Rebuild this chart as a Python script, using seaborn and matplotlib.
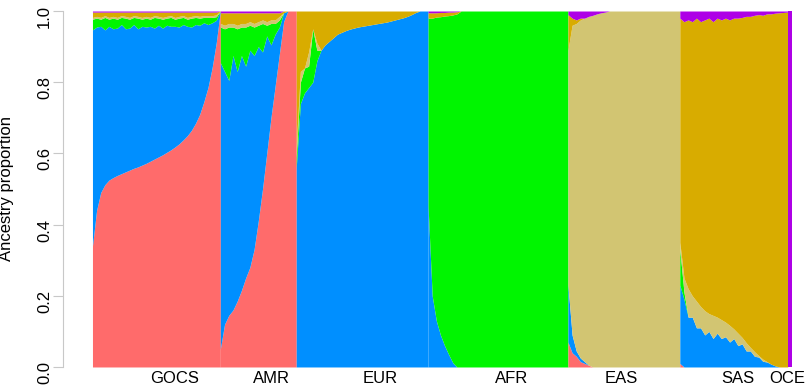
import numpy as np
import pandas as pd
import matplotlib
matplotlib.use("Agg")
import matplotlib.pyplot as plt
import seaborn as sns

# ancestry components, listed bottom to top of each bar
components = ['red', 'blue', 'green', 'khaki', 'gold', 'purple']
palette = {'red': '#FF6B6B', 'blue': '#008FFF', 'green': '#00F500',
           'khaki': '#D2C572', 'gold': '#D8AC00', 'purple': '#AE00E6'}

group_labels = ['GOCS', 'AMR', 'EUR', 'AFR', 'EAS', 'SAS', 'OCE']
label_pos = [20.6, 44.9, 72.1, 104.9, 132.4, 161.4, 173.9]
# horizontal extent of each group on the x axis
group_width = [32, 19, 33, 35, 28, 27, 1.2]

# GOCS
gocs_red = [0.34, 0.44, 0.49, 0.512, 0.525, 0.532, 0.538, 0.543, 0.548, 0.553, 0.558, 0.562, 0.567, 0.572, 0.578, 0.584,
            0.59, 0.596, 0.603, 0.61, 0.618, 0.627, 0.638, 0.65, 0.665, 0.685, 0.71, 0.745, 0.785, 0.84, 0.91, 1.0]
gocs_blue = [0.607, 0.515, 0.467, 0.435, 0.432, 0.418, 0.414, 0.419, 0.402, 0.399, 0.404, 0.388, 0.39, 0.383, 0.379, 0.368,
             0.37, 0.356, 0.357, 0.347, 0.339, 0.328, 0.324, 0.307, 0.29, 0.277, 0.25, 0.222, 0.177, 0.127, 0.064, 0.0]
gocs_green = [0.03, 0.025, 0.02, 0.035, 0.02, 0.03, 0.025, 0.02, 0.03, 0.025, 0.02, 0.03, 0.02, 0.025, 0.02, 0.03,
              0.02, 0.025, 0.02, 0.025, 0.02, 0.025, 0.02, 0.02, 0.025, 0.02, 0.02, 0.015, 0.02, 0.015, 0.01, 0.0]
gocs_khaki = [0.005, 0.005, 0.005, 0.005, 0.005, 0.005, 0.005, 0.005, 0.005, 0.005, 0.005, 0.005, 0.005, 0.005, 0.005, 0.005,
              0.005, 0.005, 0.005, 0.005, 0.005, 0.005, 0.005, 0.005, 0.005, 0.005, 0.005, 0.005, 0.005, 0.005, 0.005, 0.0]
gocs_gold = [0.015, 0.012, 0.015, 0.01, 0.015, 0.012, 0.015, 0.01, 0.012, 0.015, 0.01, 0.012, 0.015, 0.012, 0.015, 0.01,
             0.012, 0.015, 0.012, 0.01, 0.015, 0.012, 0.01, 0.015, 0.012, 0.01, 0.012, 0.01, 0.01, 0.01, 0.008, 0.0]
gocs_purple = [0.003, 0.003, 0.003, 0.003, 0.003, 0.003, 0.003, 0.003, 0.003, 0.003, 0.003, 0.003, 0.003, 0.003, 0.003, 0.003,
               0.003, 0.003, 0.003, 0.003, 0.003, 0.003, 0.003, 0.003, 0.003, 0.003, 0.003, 0.003, 0.003, 0.003, 0.003, 0.0]

# AMR
amr_red = [0.05, 0.12, 0.145, 0.16, 0.185, 0.215, 0.25, 0.28, 0.33, 0.41, 0.5, 0.6, 0.7, 0.79, 0.88, 0.97, 1.0, 1.0, 1.0]
amr_blue = [0.805, 0.71, 0.66, 0.715, 0.645, 0.66, 0.595, 0.61, 0.545, 0.49, 0.385, 0.33, 0.205, 0.145, 0.075, 0.025, 0, 0, 0]
amr_green = [0.10, 0.12, 0.15, 0.08, 0.12, 0.08, 0.11, 0.07, 0.08, 0.06, 0.08, 0.03, 0.06, 0.03, 0.02, 0, 0, 0, 0]
amr_khaki = [0.01, 0.01, 0.01, 0.01, 0.01, 0.01, 0.01, 0.01, 0.01, 0.01, 0.01, 0.01, 0.01, 0.01, 0.01, 0, 0, 0, 0]
amr_gold = [0.03, 0.035, 0.03, 0.03, 0.035, 0.03, 0.03, 0.025, 0.03, 0.025, 0.02, 0.025, 0.02, 0.02, 0.01, 0.005, 0, 0, 0]
amr_purple = [0.005, 0.005, 0.005, 0.005, 0.005, 0.005, 0.005, 0.005, 0.005, 0.005, 0.005, 0.005, 0.005, 0.005, 0.005, 0, 0, 0, 0]

# EUR
eur_blue = [0.56, 0.74, 0.77, 0.785, 0.80, 0.86, 0.89, 0.905, 0.915, 0.925, 0.935, 0.94, 0.945, 0.949, 0.952, 0.955,
            0.957, 0.959, 0.961, 0.963, 0.965, 0.967, 0.969, 0.972, 0.975, 0.978, 0.981, 0.985, 0.99, 0.996, 1.0, 1.0, 1.0]
eur_green = [0.03, 0.06, 0.07, 0.06, 0.15, 0.03, 0, 0, 0, 0, 0, 0, 0, 0, 0, 0,
             0, 0, 0, 0, 0, 0, 0, 0, 0, 0, 0, 0, 0, 0, 0, 0, 0]
eur_khaki = [0.03, 0.03, 0.0, 0.04, 0.0, 0.02, 0, 0, 0, 0, 0, 0, 0, 0, 0, 0,
             0, 0, 0, 0, 0, 0, 0, 0, 0, 0, 0, 0, 0, 0, 0, 0, 0]
eur_gold = [0.38, 0.17, 0.16, 0.115, 0.05, 0.09, 0.11, 0.095, 0.085, 0.075, 0.065, 0.06, 0.055, 0.051, 0.048, 0.045,
            0.043, 0.041, 0.039, 0.037, 0.035, 0.033, 0.031, 0.028, 0.025, 0.022, 0.019, 0.015, 0.01, 0.004, 0, 0, 0]

# AFR
afr_blue = [0.45, 0.2, 0.13, 0.09, 0.06, 0.035, 0.012, 0, 0, 0, 0, 0, 0, 0, 0, 0, 0, 0,
            0, 0, 0, 0, 0, 0, 0, 0, 0, 0, 0, 0, 0, 0, 0, 0, 0]
afr_green = [0.53, 0.78, 0.853, 0.894, 0.926, 0.952, 0.977, 0.992, 1.0, 1.0, 1.0, 1.0, 1.0, 1.0, 1.0, 1.0, 1.0, 1.0,
             1.0, 1.0, 1.0, 1.0, 1.0, 1.0, 1.0, 1.0, 1.0, 1.0, 1.0, 1.0, 1.0, 1.0, 1.0, 1.0, 1.0]
afr_gold = [0.015, 0.015, 0.012, 0.012, 0.01, 0.01, 0.008, 0.006, 0, 0, 0, 0, 0, 0, 0, 0, 0, 0,
            0, 0, 0, 0, 0, 0, 0, 0, 0, 0, 0, 0, 0, 0, 0, 0, 0]
afr_purple = [0.005, 0.005, 0.005, 0.004, 0.004, 0.003, 0.003, 0.002, 0, 0, 0, 0, 0, 0, 0, 0, 0, 0,
              0, 0, 0, 0, 0, 0, 0, 0, 0, 0, 0, 0, 0, 0, 0, 0, 0]

# EAS
eas_red = [0.07, 0.04, 0.03, 0.015, 0.01, 0.005, 0, 0, 0, 0, 0, 0, 0, 0,
           0, 0, 0, 0, 0, 0, 0, 0, 0, 0, 0, 0, 0, 0]
eas_blue = [0.16, 0.05, 0.015, 0.01, 0.005, 0, 0, 0, 0, 0, 0, 0, 0, 0,
            0, 0, 0, 0, 0, 0, 0, 0, 0, 0, 0, 0, 0, 0]
eas_khaki = [0.66, 0.87, 0.92, 0.95, 0.965, 0.98, 0.988, 0.992, 0.995, 0.997, 1.0, 1.0, 1.0, 1.0,
             1.0, 1.0, 1.0, 1.0, 1.0, 1.0, 1.0, 1.0, 1.0, 1.0, 1.0, 1.0, 1.0, 1.0]
eas_gold = [0.1, 0.02, 0.01, 0.005, 0, 0, 0, 0, 0, 0, 0, 0, 0, 0,
            0, 0, 0, 0, 0, 0, 0, 0, 0, 0, 0, 0, 0, 0]
eas_purple = [0.01, 0.02, 0.025, 0.02, 0.02, 0.015, 0.012, 0.008, 0.005, 0.003, 0, 0, 0, 0,
              0, 0, 0, 0, 0, 0, 0, 0, 0, 0, 0, 0, 0, 0]

# SAS
sas_red = [0.01, 0, 0, 0, 0, 0, 0, 0, 0, 0, 0, 0, 0, 0, 0, 0, 0, 0, 0, 0, 0, 0, 0, 0, 0, 0, 0]
sas_blue = [0.22, 0.19, 0.14, 0.14, 0.11, 0.11, 0.09, 0.1, 0.08, 0.095, 0.08, 0.085, 0.07, 0.08,
            0.06, 0.065, 0.045, 0.045, 0.03, 0.028, 0.016, 0.014, 0.008, 0.003, 0, 0, 0]
sas_green = [0.1, 0.02, 0, 0, 0, 0, 0, 0, 0, 0, 0, 0, 0, 0, 0, 0, 0, 0, 0, 0, 0, 0, 0, 0, 0, 0, 0]
sas_khaki = [0.02, 0.04, 0.08, 0.06, 0.075, 0.06, 0.068, 0.05, 0.065, 0.045, 0.053, 0.041, 0.047, 0.027,
             0.035, 0.018, 0.023, 0.01, 0.013, 0.004, 0.006, 0.001, 0, 0, 0, 0, 0]
sas_gold = [0.63, 0.72, 0.755, 0.77, 0.795, 0.80, 0.817, 0.83, 0.825, 0.84, 0.842, 0.854, 0.858, 0.873,
            0.885, 0.899, 0.917, 0.93, 0.945, 0.958, 0.966, 0.977, 0.984, 0.991, 0.995, 0.996, 0.997]
sas_purple = [0.02, 0.03, 0.025, 0.03, 0.02, 0.03, 0.025, 0.02, 0.03, 0.02, 0.025, 0.02, 0.025, 0.02,
              0.02, 0.018, 0.015, 0.015, 0.012, 0.01, 0.012, 0.008, 0.008, 0.006, 0.005, 0.004, 0.003]

# OCE
oce_purple = [1.0, 1.0]

groups = [
    {'red': gocs_red, 'blue': gocs_blue, 'green': gocs_green, 'khaki': gocs_khaki, 'gold': gocs_gold, 'purple': gocs_purple},
    {'red': amr_red, 'blue': amr_blue, 'green': amr_green, 'khaki': amr_khaki, 'gold': amr_gold, 'purple': amr_purple},
    {'blue': eur_blue, 'green': eur_green, 'khaki': eur_khaki, 'gold': eur_gold},
    {'blue': afr_blue, 'green': afr_green, 'gold': afr_gold, 'purple': afr_purple},
    {'red': eas_red, 'blue': eas_blue, 'khaki': eas_khaki, 'gold': eas_gold, 'purple': eas_purple},
    {'red': sas_red, 'blue': sas_blue, 'green': sas_green, 'khaki': sas_khaki, 'gold': sas_gold, 'purple': sas_purple},
    {'purple': oce_purple},
]

sns.set_theme(style='white')
plt.rcParams['font.family'] = ['Liberation Sans', 'DejaVu Sans']

fig, ax = plt.subplots(figsize=(8.09, 3.85), dpi=100)
fig.subplots_adjust(left=0.1143, right=0.9796, bottom=0.0468, top=0.9714)

# one stacked area per group so that group borders stay sharp
start = 0.0
for g, width in zip(groups, group_width):
    n = len(next(iter(g.values())))
    bw = width / (n - 1)
    rows = []
    for j in range(n):
        for c in components:
            rows.append({'pos': start + j * bw, 'comp': c, 'prop': g[c][j] if c in g else 0.0})
    gdf = pd.DataFrame(rows)
    bins = (start - bw / 2 + bw * np.arange(n + 1)).tolist()
    sns.histplot(data=gdf, x='pos', weights='prop', hue='comp', hue_order=components[::-1],
                 palette=palette, multiple='fill', bins=bins, element='poly',
                 linewidth=0, alpha=1, legend=False, ax=ax)
    start += width

ax.set_xlim(0, start)
ax.set_ylim(0, 1)

# R-style detached y axis
for s in ['top', 'right', 'bottom']:
    ax.spines[s].set_visible(False)
ax.spines['left'].set_position(('outward', 21))
ax.spines['left'].set_bounds(0, 1)
ax.spines['left'].set_color('#C8C8C8')
ax.spines['left'].set_linewidth(0.8)
ax.set_yticks([0, 0.2, 0.4, 0.6, 0.8, 1.0])
ax.set_yticklabels(['0.0', '0.2', '0.4', '0.6', '0.8', '1.0'])
ax.tick_params(axis='y', left=True, length=7, width=0.8, color='#C8C8C8', labelsize=12,
               labelrotation=90, pad=1, labelcolor='black')
ax.set_ylabel('Ancestry proportion', fontsize=12, color='black')
ax.yaxis.set_label_coords(-0.112, 0.5)

ax.set_xticks(label_pos)
ax.set_xticklabels(group_labels)
ax.tick_params(axis='x', bottom=False, length=0, labelsize=12, pad=3, labelcolor='black')
ax.set_xlabel('')
ax.grid(False)

plt.savefig('out.png', dpi=100)
